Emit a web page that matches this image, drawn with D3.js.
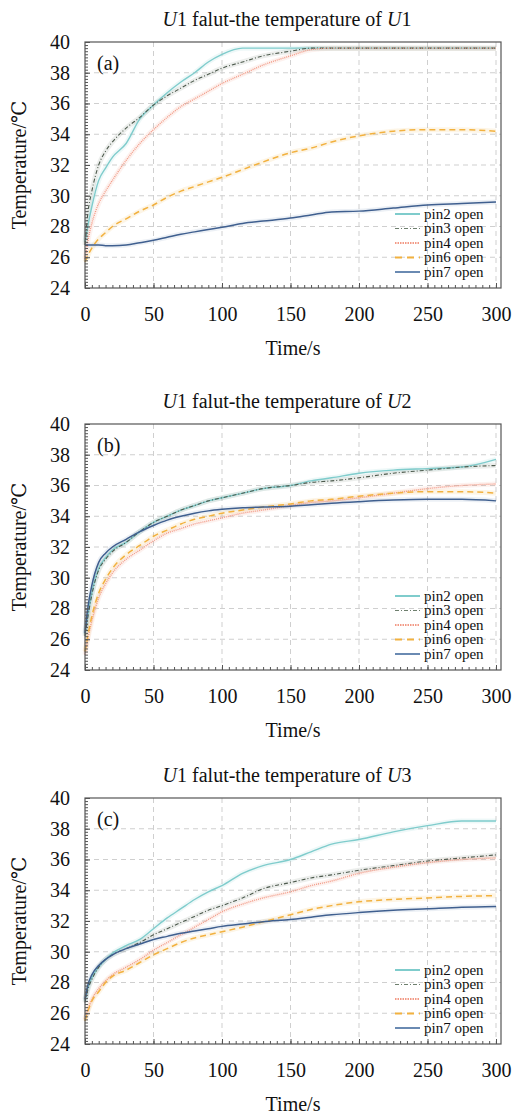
<!DOCTYPE html>
<html>
<head>
<meta charset="utf-8">
<script src="https://cdn.jsdelivr.net/npm/d3@7"></script>
<style>
  body { margin: 0; background: #fff; }
  svg { display: block; }
  svg text { font-family: "Liberation Serif", "Tinos", "Times New Roman", "DejaVu Serif", serif; fill: #111; }
</style>
</head>
<body>
<svg id="chart"></svg>
<script>
// sample times (s)
const times = [0, 2, 5, 10, 15, 20, 30, 40, 50, 60, 70, 80, 90, 100, 115, 130, 150, 165, 180, 200, 225, 250, 275, 300];

const seriesNames = ['pin2 open', 'pin3 open', 'pin4 open', 'pin6 open', 'pin7 open'];
const panelLabels = ['(a)', '(b)', '(c)'];
const panelUnits = ['1', '2', '3'];
const xTicks = [0, 50, 100, 150, 200, 250, 300];
const yTicks = [24, 26, 28, 30, 32, 34, 36, 38, 40];

// (a) temperature of U1
const aPin2 = [27.0, 28.0, 29.3, 31.0, 31.8, 32.5, 33.4, 35.0, 35.9, 36.7, 37.4, 38.0, 38.7, 39.2, 39.6, 39.6, 39.6, 39.6, 39.6, 39.6, 39.6, 39.6, 39.6, 39.6];
const aPin3 = [26.8, 28.8, 30.3, 32.0, 32.9, 33.5, 34.4, 35.1, 35.9, 36.5, 37.0, 37.5, 37.9, 38.3, 38.7, 39.1, 39.4, 39.6, 39.6, 39.6, 39.6, 39.6, 39.6, 39.6];
const aPin4 = [25.9, 27.0, 28.2, 29.5, 30.3, 31.0, 32.3, 33.4, 34.3, 35.1, 35.8, 36.3, 36.8, 37.3, 37.9, 38.5, 39.1, 39.5, 39.6, 39.6, 39.6, 39.6, 39.6, 39.6];
const aPin6 = [25.7, 26.1, 26.6, 27.2, 27.6, 28.0, 28.5, 29.0, 29.4, 29.9, 30.3, 30.6, 30.9, 31.2, 31.7, 32.2, 32.8, 33.1, 33.5, 33.9, 34.2, 34.3, 34.3, 34.2];
const aPin7 = [26.8, 26.8, 26.8, 26.8, 26.75, 26.75, 26.8, 26.95, 27.1, 27.3, 27.5, 27.65, 27.8, 27.95, 28.2, 28.35, 28.55, 28.75, 28.95, 29.0, 29.2, 29.4, 29.5, 29.6];

// (b) temperature of U2
const bPin2 = [26.3, 27.5, 29.0, 30.6, 31.3, 31.8, 32.3, 33.0, 33.6, 34.0, 34.4, 34.7, 35.0, 35.2, 35.5, 35.8, 36.0, 36.3, 36.5, 36.8, 37.0, 37.1, 37.2, 37.7];
const bPin3 = [26.2, 27.4, 28.9, 30.5, 31.2, 31.7, 32.3, 33.0, 33.6, 34.0, 34.4, 34.7, 35.0, 35.2, 35.5, 35.8, 36.0, 36.2, 36.3, 36.5, 36.8, 37.0, 37.2, 37.3];
const bPin4 = [25.0, 26.0, 27.2, 28.7, 29.6, 30.3, 31.2, 31.8, 32.4, 32.9, 33.2, 33.5, 33.7, 33.9, 34.2, 34.4, 34.7, 34.9, 35.0, 35.2, 35.5, 35.8, 36.0, 36.1];
const bPin6 = [25.2, 26.2, 27.5, 29.0, 29.9, 30.6, 31.5, 32.1, 32.7, 33.1, 33.5, 33.8, 34.0, 34.2, 34.4, 34.6, 34.8, 35.0, 35.1, 35.3, 35.5, 35.6, 35.6, 35.5];
const bPin7 = [26.4, 28.0, 29.5, 31.0, 31.6, 32.0, 32.5, 33.0, 33.4, 33.75, 34.0, 34.2, 34.35, 34.45, 34.55, 34.6, 34.65, 34.75, 34.85, 34.95, 35.05, 35.1, 35.1, 35.0];

// (c) temperature of U3
const cPin2 = [26.8, 27.6, 28.3, 29.0, 29.5, 29.9, 30.4, 30.8, 31.5, 32.2, 32.8, 33.4, 33.9, 34.3, 35.1, 35.6, 36.0, 36.5, 37.0, 37.3, 37.8, 38.2, 38.5, 38.5];
const cPin3 = [26.7, 27.5, 28.2, 29.0, 29.5, 29.8, 30.2, 30.6, 31.1, 31.5, 31.9, 32.3, 32.7, 33.0, 33.5, 34.1, 34.5, 34.8, 35.0, 35.3, 35.6, 35.9, 36.1, 36.3];
const cPin4 = [25.6, 26.2, 26.9, 27.6, 28.1, 28.5, 29.0, 29.5, 30.1, 30.6, 31.1, 31.6, 32.1, 32.6, 33.1, 33.5, 33.9, 34.3, 34.6, 35.1, 35.5, 35.8, 36.0, 36.1];
const cPin6 = [25.5, 26.1, 26.8, 27.4, 28.0, 28.4, 28.8, 29.3, 29.8, 30.2, 30.6, 30.9, 31.1, 31.3, 31.6, 31.95, 32.4, 32.75, 33.0, 33.25, 33.4, 33.5, 33.6, 33.65];
const cPin7 = [26.9, 27.8, 28.5, 29.1, 29.5, 29.8, 30.2, 30.5, 30.8, 31.0, 31.2, 31.35, 31.5, 31.65, 31.8, 31.95, 32.1, 32.25, 32.4, 32.55, 32.7, 32.8, 32.9, 32.95];

const panelData = [
  [aPin2, aPin3, aPin4, aPin6, aPin7],
  [bPin2, bPin3, bPin4, bPin6, bPin7],
  [cPin2, cPin3, cPin4, cPin6, cPin7]
];

const styles = [
  { color: '#7fcccc', legend: '#7fcccc', dash: null, width: 1.4 },
  { color: '#4d5a4d', legend: '#6e7f6e', dash: '4,2,1,2', width: 1.1 },
  { color: '#f29a86', legend: '#f29a86', dash: '1,1', width: 1.4 },
  { color: '#f2b13f', legend: '#f2b13f', dash: '6,4', width: 1.5 },
  { color: '#3f5f8f', legend: '#6a8ab2', dash: null, width: 1.5 }
];

const W = 513, H = 1115;
const tops = [42, 424, 798];
const plotH = 246, left = 85, right = 501;
const serif = '"Liberation Serif", "Tinos", "Times New Roman", "DejaVu Serif", serif';

const svg = d3.select('#chart').attr('width', W).attr('height', H).attr('font-family', serif);

function drawPanel(idx) {
  let top = tops[idx],
    bottom = top + plotH,
    x = d3.scaleLinear().domain([0, 300]).range([left, 496]),
    y = d3.scaleLinear().domain([24, 40]).range([bottom, top]),
    g = svg.append('g').classed('panel', true);

  // grid
  g.selectAll('.vgrid')
    .data(xTicks.slice(1))
    .enter()
    .append('line')
    .attr('x1', d => x(d)).attr('x2', d => x(d))
    .attr('y1', top).attr('y2', bottom)
    .attr('stroke', '#cfcfcf').attr('stroke-dasharray', '5,4').attr('stroke-width', 1);
  g.selectAll('.hgrid')
    .data(yTicks.slice(1, -1))
    .enter()
    .append('line')
    .attr('x1', left).attr('x2', right)
    .attr('y1', d => y(d)).attr('y2', d => y(d))
    .attr('stroke', '#cfcfcf').attr('stroke-dasharray', '5,4').attr('stroke-width', 1);

  // curves
  let line = d3.line()
    .x((d, i) => x(times[i]))
    .y(d => y(d))
    .curve(d3.curveMonotoneX);
  panelData[idx].forEach((vals, k) => {
    g.append('path')
      .attr('d', line(vals))
      .attr('fill', 'none')
      .attr('stroke', styles[k].legend)
      .attr('stroke-opacity', 0.13)
      .attr('stroke-width', 5);
  });
  panelData[idx].forEach((vals, k) => {
    g.append('path')
      .attr('d', line(vals))
      .attr('fill', 'none')
      .attr('stroke', styles[k].color)
      .attr('stroke-width', styles[k].width)
      .attr('stroke-dasharray', styles[k].dash);
  });

  // minor ticks
  let bx = g.append('g')
    .attr('transform', 'translate(0,' + bottom + ')')
    .call(d3.axisBottom(x).tickValues(d3.range(0, 301, 5)).tickSize(-3).tickFormat(''));
  bx.select('.domain').remove();
  bx.selectAll('line').attr('stroke', '#555');
  let ly = g.append('g')
    .attr('transform', 'translate(' + left + ',0)')
    .call(d3.axisLeft(y).tickValues(d3.range(24, 40.01, 0.2)).tickSize(-3).tickFormat(''));
  ly.select('.domain').remove();
  ly.selectAll('line').attr('stroke', '#555');

  // tick labels
  let xa = g.append('g')
    .attr('transform', 'translate(0,' + bottom + ')')
    .call(d3.axisBottom(x).tickValues(xTicks).tickSize(-5).tickPadding(19));
  xa.select('.domain').remove();
  xa.selectAll('line').attr('stroke', '#555');
  xa.selectAll('text').style('font-size', '20px');
  let ya = g.append('g')
    .attr('transform', 'translate(' + left + ',0)')
    .call(d3.axisLeft(y).tickValues(yTicks).tickSize(-5).tickPadding(15));
  ya.select('.domain').remove();
  ya.selectAll('line').attr('stroke', '#555');
  ya.selectAll('text').style('font-size', '20px');

  // frame
  g.append('rect')
    .attr('x', left).attr('y', top)
    .attr('width', right - left).attr('height', plotH)
    .attr('fill', 'none').attr('stroke', '#555').attr('stroke-width', 1.2);

  // title
  let title = g.append('text')
    .attr('x', 287).attr('y', top - 16)
    .attr('text-anchor', 'middle')
    .style('font-size', '20px');
  title.append('tspan').attr('font-style', 'italic').text('U');
  title.append('tspan').text('1 falut-the temperature of ');
  title.append('tspan').attr('font-style', 'italic').text('U');
  title.append('tspan').text(panelUnits[idx]);

  g.append('text')
    .attr('x', 97).attr('y', top + 28)
    .style('font-size', '20px')
    .text(panelLabels[idx]);

  g.append('text')
    .attr('transform', 'translate(26,' + (top + plotH / 2) + ') rotate(-90)')
    .attr('text-anchor', 'middle')
    .style('font-size', '20px')
    .text('Temperature/℃');

  g.append('text')
    .attr('x', 293).attr('y', bottom + 67)
    .attr('text-anchor', 'middle')
    .style('font-size', '20px')
    .text('Time/s');

  // legend
  let lg = g.append('g').classed('legend', true);
  seriesNames.forEach((name, k) => {
    let ly0 = bottom - 16 - (4 - k) * 14.5;
    lg.append('line')
      .attr('x1', 395).attr('x2', 420)
      .attr('y1', ly0).attr('y2', ly0)
      .attr('stroke', styles[k].legend)
      .attr('stroke-width', k === 1 ? 1.2 : 2)
      .attr('stroke-dasharray', k === 3 ? '7,5' : k === 2 ? '1.5,1' : styles[k].dash);
    lg.append('text')
      .attr('x', 424).attr('y', ly0 + 4.5)
      .style('font-size', '15px')
      .text(name);
  });
}

[0, 1, 2].forEach(drawPanel);

// same serif face on every label
svg.selectAll('text').style('font-family', serif).attr('fill', '#111');
</script>
</body>
</html>
